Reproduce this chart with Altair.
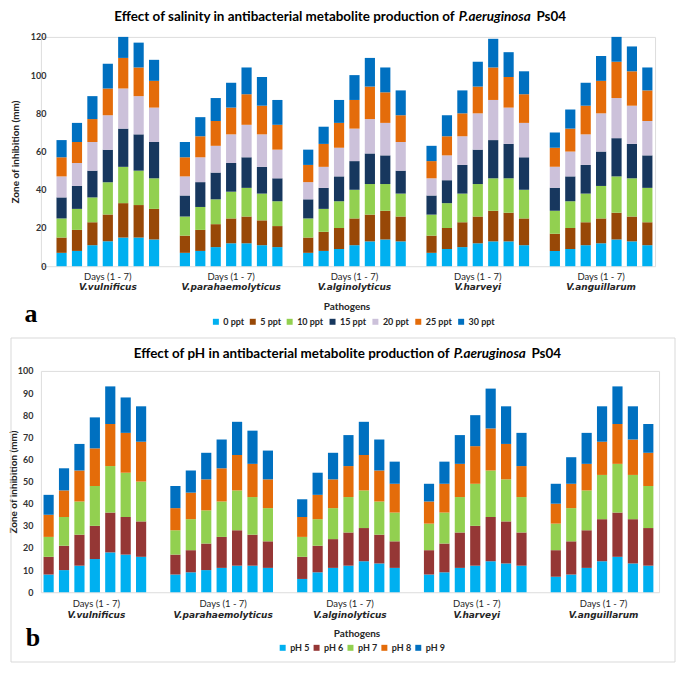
import altair as alt
import pandas as pd

pathogens = ["V.vulnificus", "V.parahaemolyticus", "V.alginolyticus", "V.harveyi", "V.anguillarum"]
days = [1, 2, 3, 4, 5, 6, 7]

sal_levels = ["0 ppt", "5 ppt", "10 ppt", "15 ppt", "20 ppt", "25 ppt", "30 ppt"]
sal_colors = ["#00B0F0", "#984807", "#92D050", "#17375E", "#CCC1DA", "#E46C0A", "#0070C0"]

ph_levels = ["pH 5", "pH 6", "pH 7", "pH 8", "pH 9"]
ph_colors = ["#00B0F0", "#953735", "#92D050", "#E46C0A", "#0070C0"]

# salinity: rows = day 1..7, columns = 0,5,10,15,20,25,30 ppt
sal_vulnificus = [[7, 8, 10, 11, 11, 10, 9], [8, 11, 11, 12, 12, 11, 10], [11, 12, 13, 14, 15, 12, 12],
                  [13, 14, 17, 17, 18, 14, 13], [15, 18, 19, 20, 21, 16, 11], [15, 17, 18, 19, 20, 15, 13],
                  [14, 16, 16, 19, 18, 14, 11]]
sal_parahaemolyticus = [[7, 9, 10, 11, 10, 10, 8], [8, 11, 12, 13, 13, 11, 10], [10, 12, 13, 14, 14, 13, 12],
                        [12, 13, 14, 15, 15, 14, 13], [12, 14, 15, 16, 17, 16, 14], [11, 13, 14, 14, 17, 15, 15],
                        [10, 11, 13, 12, 15, 13, 13]]
sal_alginolyticus = [[7, 8, 10, 10, 9, 9, 8], [8, 10, 12, 11, 11, 12, 9], [9, 11, 14, 13, 15, 13, 12],
                     [11, 14, 15, 15, 17, 15, 13], [13, 14, 16, 16, 18, 17, 15], [14, 15, 14, 15, 17, 16, 13],
                     [13, 13, 12, 12, 15, 14, 13]]
sal_harveyi = [[7, 9, 11, 10, 9, 9, 8], [9, 11, 13, 12, 13, 10, 11], [10, 13, 15, 15, 15, 12, 12],
               [12, 14, 17, 18, 19, 14, 13], [13, 16, 17, 20, 21, 17, 15], [13, 15, 18, 18, 19, 16, 13],
               [11, 14, 15, 17, 18, 15, 12]]
sal_anguillarum = [[8, 9, 12, 12, 11, 10, 8], [9, 11, 14, 13, 13, 12, 10], [11, 12, 15, 15, 16, 15, 12],
                   [12, 13, 17, 18, 20, 17, 13], [14, 14, 19, 20, 21, 19, 13], [13, 13, 20, 18, 20, 18, 13],
                   [11, 12, 18, 17, 18, 16, 12]]

# pH: rows = day 1..7, columns = pH 5..9
ph_vulnificus = [[8, 8, 9, 10, 9], [10, 11, 13, 12, 10], [12, 14, 15, 14, 12], [15, 15, 18, 17, 14],
                 [18, 18, 21, 19, 17], [17, 17, 20, 18, 16], [16, 16, 18, 18, 16]]
ph_parahaemolyticus = [[8, 9, 11, 10, 10], [9, 10, 14, 12, 10], [10, 12, 15, 14, 12], [11, 14, 16, 15, 13],
                       [12, 16, 18, 16, 15], [12, 14, 17, 15, 15], [11, 12, 15, 13, 13]]
ph_alginolyticus = [[6, 10, 9, 9, 8], [9, 12, 12, 11, 10], [11, 13, 14, 13, 12], [12, 15, 16, 14, 14],
                    [14, 15, 17, 16, 15], [13, 13, 15, 14, 14], [11, 12, 13, 13, 10]]
ph_harveyi = [[8, 11, 12, 10, 8], [9, 13, 14, 13, 10], [11, 16, 16, 15, 13], [12, 18, 19, 17, 14],
              [14, 20, 21, 19, 18], [13, 19, 19, 16, 17], [12, 15, 16, 14, 15]]
ph_anguillarum = [[7, 12, 12, 9, 9], [8, 15, 15, 11, 12], [11, 17, 18, 12, 14], [14, 19, 20, 15, 16],
                  [16, 20, 22, 18, 17], [13, 20, 20, 16, 15], [12, 17, 19, 15, 13]]

sal_tables = [sal_vulnificus, sal_parahaemolyticus, sal_alginolyticus, sal_harveyi, sal_anguillarum]
ph_tables = [ph_vulnificus, ph_parahaemolyticus, ph_alginolyticus, ph_harveyi, ph_anguillarum]


def long_table(tables, levels):
    rows = []
    for p, tab in zip(pathogens, tables):
        for d, vals in zip(days, tab):
            for i, (lvl, v) in enumerate(zip(levels, vals)):
                rows.append({"pathogen": p, "day": d, "level": lvl, "idx": i, "value": v})
    return pd.DataFrame(rows)


sal_df = long_table(sal_tables, sal_levels)
ph_df = long_table(ph_tables, ph_levels)
path_df = pd.DataFrame({"pathogen": pathogens})
one = pd.DataFrame({"k": [0]})

TXT = "#262626"
TF = 13.5


def txt(x, y, text, **kw):
    return alt.Chart(one).mark_text(baseline="middle", **kw).encode(
        x=alt.value(x), y=alt.value(y), text=alt.value(text))


def panel(df, levels, colors, W, H, x_range, ymax, ystep, axis_offset, ytitle_x,
          title_main, t_end, t_w2, t_y, legend_x, legend_y, colpad, letter, letter_x, letter_y,
          days_y, sp_y, path_x, path_y, border=None):
    sc = dict(paddingInner=0.125, paddingOuter=0)
    if x_range is not None:
        sc["range"] = x_range
    xs = alt.Scale(**sc)
    x_enc = alt.X("pathogen:N", sort=pathogens, scale=xs,
                  axis=alt.Axis(labels=False, ticks=False, domain=True, domainColor="#d9d9d9",
                                grid=False, title=None))
    bars = alt.Chart(df).mark_bar().encode(
        x=x_enc,
        xOffset=alt.XOffset("day:O", scale=alt.Scale(paddingInner=0.34, paddingOuter=0.17)),
        y=alt.Y("value:Q", stack="zero", scale=alt.Scale(domain=[0, ymax], nice=False),
                axis=alt.Axis(values=list(range(0, ymax + 1, ystep)), domain=False, ticks=False,
                              grid=False, labelPadding=8, offset=axis_offset, labelFont="Lato",
                              labelFontWeight="bold", labelFontSize=9, labelColor="#333333",
                              title="Zone of inhibition (mm)", titleFont="Lato", titleFontSize=10,
                              titleFontWeight="bold", titleColor=TXT, titleX=ytitle_x,
                              titleBaseline="middle")),
        color=alt.Color("level:N", scale=alt.Scale(domain=levels, range=colors),
                        legend=alt.Legend(orient="none", legendX=legend_x, legendY=legend_y,
                                          direction="horizontal", title=None, symbolType="square",
                                          symbolSize=36, symbolStrokeWidth=0, labelFont="Lato",
                                          labelFontSize=9, labelFontWeight="bold", labelColor=TXT,
                                          columnPadding=colpad, labelOffset=3)),
        order=alt.Order("idx:Q", sort="ascending"),
    )
    x_txt = alt.X("pathogen:N", sort=pathogens, scale=xs, axis=None)
    days_t = alt.Chart(path_df).mark_text(font="Lato", fontSize=9.5, color=TXT, baseline="middle").encode(
        x=x_txt, y=alt.value(days_y), text=alt.value("Days (1 - 7)"))
    sp_t = alt.Chart(path_df).mark_text(font="DejaVu Sans", fontSize=9, fontWeight="bold",
                                        fontStyle="italic", color=TXT, baseline="middle").encode(
        x=x_txt, y=alt.value(sp_y), text="pathogen:N")
    t1 = txt(t_end, t_y, title_main, font="Lato", fontSize=TF, fontWeight="bold", color="#000000",
             align="right")
    t2 = txt(t_end + 4, t_y, "P.aeruginosa", font="Lato", fontSize=TF, fontWeight="bold",
             fontStyle="italic", color="#000000", align="left")
    t3 = txt(t_end + 4 + t_w2, t_y, "Ps04", font="Lato", fontSize=TF, fontWeight="bold",
             color="#000000", align="left")
    path_t = txt(path_x, path_y, "Pathogens", font="Lato", fontSize=10, fontWeight="bold", color=TXT)
    let = txt(letter_x, letter_y, letter, font="Liberation Serif", fontSize=26, fontWeight="bold",
              color="#000000")
    layers = []
    if border is not None:
        bx1, bx2, by1, by2 = border
        layers.append(alt.Chart(one).mark_rect(fillOpacity=0, stroke="#d9d9d9", strokeWidth=1).encode(
            x=alt.value(bx1), x2=alt.value(bx2), y=alt.value(by1), y2=alt.value(by2)))
    layers += [bars, days_t, sp_t, t1, t2, t3, path_t, let]
    return alt.layer(*layers).properties(width=W, height=H)


Ha = 230
Hb = 222
pa = panel(sal_df, sal_levels, sal_colors, 616, Ha, [13, 616], 120, 20, -13, -38,
           "Effect of salinity in antibacterial metabolite production of", 415, 78, -20,
           171, Ha + 51, 4, "a", -10, Ha + 48, Ha + 11, Ha + 21, 307, Ha + 41)
pb = panel(ph_df, ph_levels, ph_colors, 620, Hb, None, 100, 10, 0, -27,
           "Effect of pH in antibacterial metabolite production of", 410, 78, -17,
           238, Hb + 51, 2, "b", -8, Hb + 46, Hb + 12, Hb + 23, 317, Hb + 42,
           border=(-30, 636, -33, Hb + 70))

chart = (alt.vconcat(pa, pb, spacing=9)
         .resolve_scale(color="independent")
         .resolve_legend(color="independent")
         .configure_view(stroke=None)
         .configure(padding=0))

chart.save("out.html", embed_options={"renderer": "svg", "actions": False})
